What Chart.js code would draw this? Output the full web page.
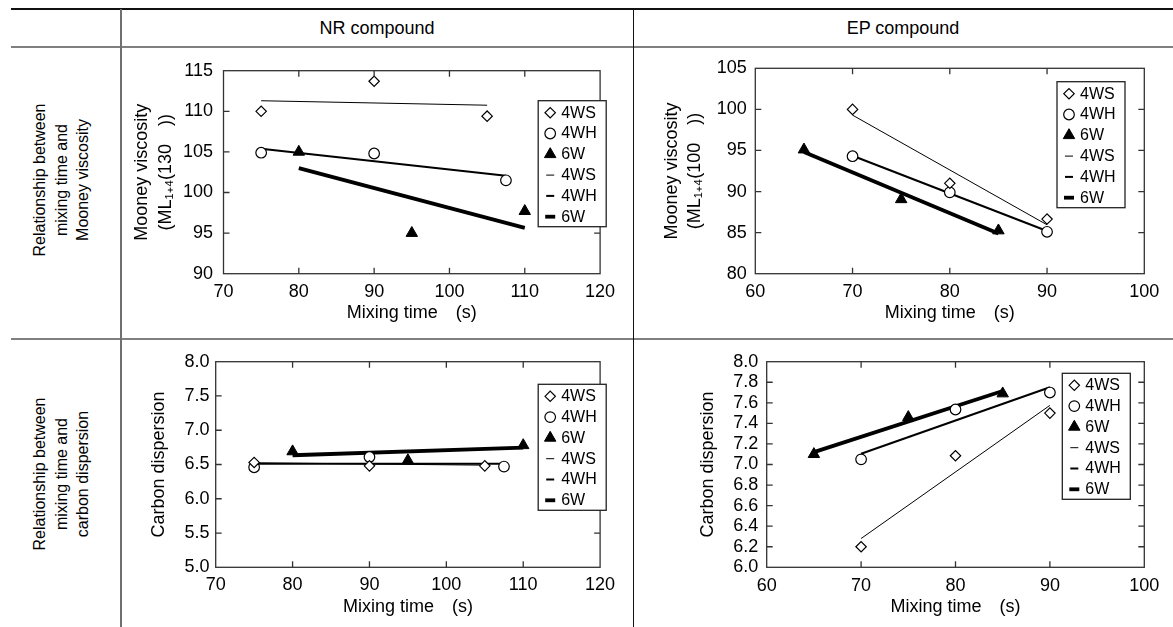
<!DOCTYPE html>
<html><head><meta charset="utf-8">
<script src="https://cdn.jsdelivr.net/npm/chart.js@4.4.1/dist/chart.umd.min.js"></script>
<style>
html,body{margin:0;padding:0;background:#fff;}
#page{position:relative;width:1173px;height:627px;overflow:hidden;background:#fff;font-family:'Liberation Sans',Arial,Helvetica,sans-serif;color:#000;}
.ln{position:absolute;}
canvas{position:absolute;left:0;top:0;}
.hdr{position:absolute;white-space:nowrap;font-size:18px;transform:translate(-50%,-50%);}
.row{position:absolute;white-space:nowrap;text-align:center;font-size:16px;line-height:21.5px;transform:translate(-50%,-50%) rotate(-90deg);}
</style></head><body>
<div id="page">
  <div class="ln" style="left:11px;top:8px;width:1162px;height:2px;background:#111"></div>
  <div class="ln" style="left:11px;top:46px;width:1162px;height:2px;background:#808080"></div>
  <div class="ln" style="left:11px;top:338px;width:1162px;height:2px;background:#808080"></div>
  <div class="ln" style="left:120px;top:9px;width:2px;height:618px;background:#707070"></div>
  <div class="ln" style="left:633px;top:9px;width:1px;height:618px;background:#111"></div>
  <div class="hdr" style="left:377px;top:28px">NR compound</div>
  <div class="hdr" style="left:903px;top:28px">EP compound</div>
  <div class="row" style="left:60.5px;top:180px">Relationship between<br>mixing time and<br>Mooney viscosity</div>
  <div class="row" style="left:60.5px;top:473.5px">Relationship between<br>mixing time and<br>carbon dispersion</div>
  <canvas id="c1" width="1173" height="627"></canvas>
  <canvas id="c2" width="1173" height="627"></canvas>
  <canvas id="c3" width="1173" height="627"></canvas>
  <canvas id="c4" width="1173" height="627"></canvas>
</div>
<script>
// ---------------- data ----------------
const seriesLabels = ['4WS', '4WH', '6W'];

// axis tick values
const nrTimeTicks = [70, 80, 90, 100, 110, 120];
const epTimeTicks = [60, 70, 80, 90, 100];
const nrMooneyTicks = [90, 95, 100, 105, 110, 115];
const epMooneyTicks = [80, 85, 90, 95, 100, 105];
const nrCarbonTicks = [5.0, 5.5, 6.0, 6.5, 7.0, 7.5, 8.0];
const epCarbonTicks = [6.0, 6.2, 6.4, 6.6, 6.8, 7.0, 7.2, 7.4, 7.6, 7.8, 8.0];

// NR compound – Mooney viscosity
const nrMvTime4WS = [75, 90, 105];
const nrMv4WS = [110.0, 113.7, 109.4];
const nrMvTime4WH = [75, 90, 107.5];
const nrMv4WH = [104.9, 104.8, 101.5];
const nrMvTime6W = [80, 95, 110];
const nrMv6W = [105.0, 95.0, 97.7];
const nrMvFitTime4WS = [75, 105];
const nrMvFit4WS = [111.3, 110.75];
const nrMvFitTime4WH = [75, 107.5];
const nrMvFit4WH = [105.4, 102.05];
const nrMvFitTime6W = [80, 110];
const nrMvFit6W = [103.0, 95.65];

// EP compound – Mooney viscosity
const epMvTime4WS = [70, 80, 90];
const epMv4WS = [100.0, 91.0, 86.65];
const epMvTime4WH = [70, 80, 90];
const epMv4WH = [94.3, 89.9, 85.1];
const epMvTime6W = [65, 75, 85];
const epMv6W = [95.1, 89.05, 85.25];
const epMvFitTime4WS = [70, 90];
const epMvFit4WS = [99.3, 85.95];
const epMvFitTime4WH = [70, 90];
const epMvFit4WH = [94.35, 85.2];
const epMvFitTime6W = [65, 85];
const epMvFit6W = [94.8, 84.9];

// NR compound – carbon dispersion
const nrCdTime4WS = [75, 90, 105];
const nrCd4WS = [6.53, 6.48, 6.48];
const nrCdTime4WH = [75, 90, 107.5];
const nrCd4WH = [6.46, 6.61, 6.47];
const nrCdTime6W = [80, 95, 110];
const nrCd6W = [6.69, 6.56, 6.78];
const nrCdFitTime4WS = [75, 105];
const nrCdFit4WS = [6.525, 6.49];
const nrCdFitTime4WH = [75, 107.5];
const nrCdFit4WH = [6.51, 6.51];
const nrCdFitTime6W = [80, 110];
const nrCdFit6W = [6.635, 6.745];

// EP compound – carbon dispersion
const epCdTime4WS = [70, 80, 90];
const epCd4WS = [6.2, 7.085, 7.5];
const epCdTime4WH = [70, 80, 90];
const epCd4WH = [7.05, 7.535, 7.70];
const epCdTime6W = [65, 75, 85];
const epCd6W = [7.1, 7.46, 7.69];
const epCdFitTime4WS = [70, 90];
const epCdFit4WS = [6.28, 7.575];
const epCdFitTime4WH = [70, 90];
const epCdFit4WH = [7.105, 7.752];
const epCdFitTime6W = [65, 85];
const epCdFit6W = [7.12, 7.715];

// ---------------- helpers ----------------
const FONT = "'Liberation Sans', Arial, Helvetica, sans-serif";
Chart.defaults.font.family = FONT;
Chart.defaults.color = '#000';

const pts = (xs, ys) => xs.map((x, i) => ({x: x, y: ys[i]}));

const markerStyles = [
  {pointStyle: 'rectRot', pointRadius: 5.2, pointBackgroundColor: '#fff', pointBorderColor: '#000', pointBorderWidth: 1.2},
  {pointStyle: 'circle', pointRadius: 5.3, pointBackgroundColor: '#fff', pointBorderColor: '#000', pointBorderWidth: 1.2},
  {pointStyle: 'triangle', pointRadius: 6.6, pointBackgroundColor: '#000', pointBorderColor: '#000', pointBorderWidth: 1}
];
const fitWidths = [1, 2, 3.8];

function buildDatasets(sets) {
  const out = [];
  sets.points.forEach((p, i) => {
    out.push(Object.assign({label: seriesLabels[i], data: pts(p[0], p[1]), showLine: false}, markerStyles[i]));
  });
  sets.fits.forEach((f, i) => {
    out.push({label: seriesLabels[i], data: pts(f[0], f[1]), showLine: true, pointRadius: 0,
      borderColor: '#000', borderWidth: fitWidths[i], fill: false, isFit: true});
  });
  return out;
}

const framePlugin = {
  id: 'frameTicks',
  afterDatasetsDraw(chart) {
    const ctx = chart.ctx, a = chart.chartArea;
    const xs = chart.scales.x, ys = chart.scales.y;
    const L = 6;
    ctx.save();
    ctx.strokeStyle = '#333';
    ctx.lineWidth = 1.3;
    ctx.strokeRect(a.left, a.top, a.right - a.left, a.bottom - a.top);
    ctx.beginPath();
    xs.ticks.forEach(t => {
      if (t.value <= xs.min || t.value >= xs.max) return;
      const px = xs.getPixelForValue(t.value);
      ctx.moveTo(px, a.top); ctx.lineTo(px, a.top + L);
      ctx.moveTo(px, a.bottom); ctx.lineTo(px, a.bottom - L);
    });
    ys.ticks.forEach(t => {
      if (t.value <= ys.min + 1e-9 || t.value >= ys.max - 1e-9) return;
      const py = ys.getPixelForValue(t.value);
      ctx.moveTo(a.left, py); ctx.lineTo(a.left + L, py);
      ctx.moveTo(a.right, py); ctx.lineTo(a.right - L, py);
    });
    ctx.stroke();
    ctx.restore();
  },
  afterDraw(chart) {
    const lg = chart.options.plugins.frameTicks;
    if (!lg) return;
    const ctx = chart.ctx, a = chart.chartArea;
    const bx = a.right - lg.dx, by = a.top + lg.dy, w = 68, h = 126, pitch = 20.8;
    ctx.save();
    ctx.fillStyle = '#fff';
    ctx.fillRect(bx, by, w, h);
    ctx.strokeStyle = '#222';
    ctx.lineWidth = 1.3;
    ctx.strokeRect(bx, by, w, h);
    chart.data.datasets.forEach((ds, i) => {
      const cy = by + 12 + i * pitch;
      const mx = bx + 12;
      if (ds.isFit) {
        ctx.beginPath();
        ctx.strokeStyle = '#000';
        ctx.lineWidth = ds.borderWidth;
        ctx.lineCap = 'butt';
        const half = ds.borderWidth > 3 ? 5 : 4;
        ctx.moveTo(mx - half, cy); ctx.lineTo(mx + half, cy);
        ctx.stroke();
      } else {
        ctx.fillStyle = ds.pointBackgroundColor;
        ctx.strokeStyle = ds.pointBorderColor;
        ctx.lineWidth = ds.pointBorderWidth;
        Chart.helpers.drawPoint(ctx, {pointStyle: ds.pointStyle, radius: ds.pointRadius, borderWidth: ds.pointBorderWidth, rotation: 0}, mx, cy);
      }
      ctx.fillStyle = '#000';
      ctx.font = '16px ' + FONT;
      ctx.textAlign = 'left';
      ctx.textBaseline = 'middle';
      ctx.fillText(ds.label, bx + 23, cy + 0.5);
    });
    ctx.restore();
  }
};

function makePanel(p) {
  const xT = p.xTicks, yT = p.yTicks;
  new Chart(document.getElementById(p.id), {
    type: 'scatter',
    data: {datasets: buildDatasets(p.sets)},
    plugins: [framePlugin],
    options: {
      responsive: false, animation: false, devicePixelRatio: 1,
      layout: {padding: {left: p.plot.l - p.yW, top: p.plot.t, right: 1173 - p.plot.r, bottom: 627 - p.plot.b - p.xH}},
      plugins: {legend: {display: false}, tooltip: {enabled: false}, frameTicks: p.legend},
      scales: {
        x: {
          type: 'linear', position: 'bottom',
          min: xT[0], max: xT[xT.length - 1],
          ticks: {stepSize: xT[1] - xT[0], padding: p.xPad, font: {size: 18}, color: '#000', maxRotation: 0, autoSkip: false},
          grid: {display: false, drawTicks: false}, border: {display: false},
          title: {display: true, text: 'Mixing time\u3000(s)', font: {size: 18, lineHeight: 1.31}, color: '#000', padding: 0},
          afterFit: s => { s.height = p.xH; }
        },
        y: {
          type: 'linear', position: 'left',
          min: yT[0], max: yT[yT.length - 1],
          ticks: {stepSize: +(yT[1] - yT[0]).toFixed(2), padding: p.yPad, font: {size: 18}, color: '#000', autoSkip: false,
            callback: v => Number(v).toFixed(p.yDec)},
          grid: {display: false, drawTicks: false}, border: {display: false},
          title: {display: true, text: p.yTitle, font: {size: 18, lineHeight: 1.31}, color: '#000', padding: 0},
          afterFit: s => { s.width = p.yW; }
        }
      }
    }
  });
}

const mooneyNR = ['Mooney viscosity', '(ML\u2081\u208A\u2084(130\u3000))'];
const mooneyEP = ['Mooney viscosity', '(ML\u2081\u208A\u2084(100\u3000))'];

makePanel({id: 'c1', plot: {l: 223.5, t: 70.7, r: 600.1, b: 273.7}, yW: 93.3, xH: 51.6, xPad: 7.2, yPad: 10.5,
  xTicks: nrTimeTicks, yTicks: nrMooneyTicks, yDec: 0, yTitle: mooneyNR, legend: {dx: 61.9, dy: 30},
  sets: {points: [[nrMvTime4WS, nrMv4WS], [nrMvTime4WH, nrMv4WH], [nrMvTime6W, nrMv6W]],
         fits: [[nrMvFitTime4WS, nrMvFit4WS], [nrMvFitTime4WH, nrMvFit4WH], [nrMvFitTime6W, nrMvFit6W]]}});

makePanel({id: 'c2', plot: {l: 755.3, t: 68.3, r: 1144.3, b: 273.7}, yW: 95.3, xH: 51.6, xPad: 7.2, yPad: 8.6,
  xTicks: epTimeTicks, yTicks: epMooneyTicks, yDec: 0, yTitle: mooneyEP, legend: {dx: 87.3, dy: 13.4},
  sets: {points: [[epMvTime4WS, epMv4WS], [epMvTime4WH, epMv4WH], [epMvTime6W, epMv6W]],
         fits: [[epMvFitTime4WS, epMvFit4WS], [epMvFitTime4WH, epMvFit4WH], [epMvFitTime6W, epMvFit6W]]}});

makePanel({id: 'c3', plot: {l: 215.7, t: 361.7, r: 600.1, b: 567.3}, yW: 68.6, xH: 51.2, xPad: 6.5, yPad: 6.1,
  xTicks: nrTimeTicks, yTicks: nrCarbonTicks, yDec: 1, yTitle: 'Carbon dispersion', legend: {dx: 61.9, dy: 22.6},
  sets: {points: [[nrCdTime4WS, nrCd4WS], [nrCdTime4WH, nrCd4WH], [nrCdTime6W, nrCd6W]],
         fits: [[nrCdFitTime4WS, nrCdFit4WS], [nrCdFitTime4WH, nrCdFit4WH], [nrCdFitTime6W, nrCdFit6W]]}});

makePanel({id: 'c4', plot: {l: 766.7, t: 361.7, r: 1144.3, b: 567.3}, yW: 70.2, xH: 51.1, xPad: 7.6, yPad: 8.4,
  xTicks: epTimeTicks, yTicks: epCarbonTicks, yDec: 1, yTitle: 'Carbon dispersion', legend: {dx: 82, dy: 11.6},
  sets: {points: [[epCdTime4WS, epCd4WS], [epCdTime4WH, epCd4WH], [epCdTime6W, epCd6W]],
         fits: [[epCdFitTime4WS, epCdFit4WS], [epCdFitTime4WH, epCdFit4WH], [epCdFitTime6W, epCdFit6W]]}});
</script>
</body></html>
